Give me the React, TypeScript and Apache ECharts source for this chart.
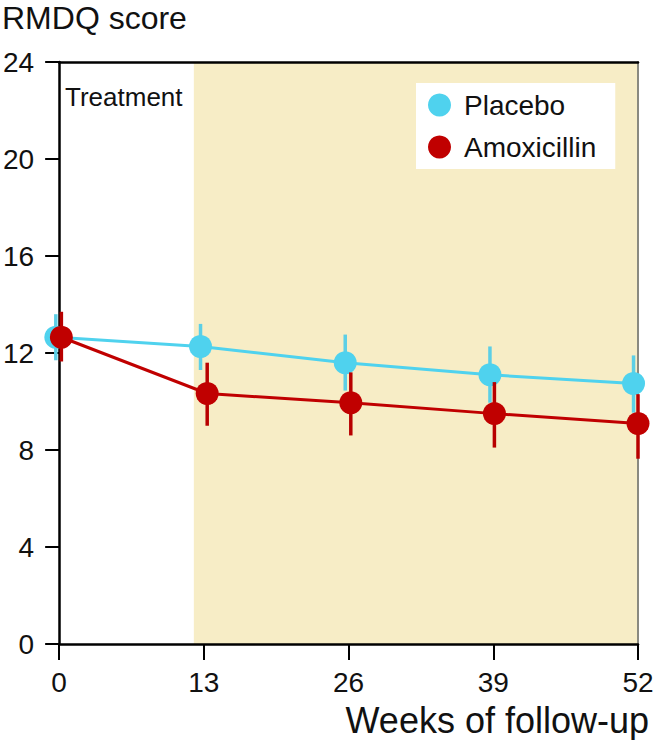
import React, { useEffect, useRef } from "react";
import * as echarts from "echarts";

const weekTicks = [0, 13, 26, 39, 52];
const placeboWeeks = [-0.3, 12.7, 25.7, 38.7, 51.6];
const placeboMean = [12.65, 12.27, 11.6, 11.1, 10.74];
const placeboLow = [11.7, 11.3, 10.45, 9.95, 9.54];
const placeboHigh = [13.6, 13.2, 12.76, 12.27, 11.9];

const amoxWeeks = [0.2, 13.3, 26.2, 39.1, 52];
const amoxMean = [12.65, 10.33, 9.95, 9.5, 9.09];
const amoxLow = [11.65, 9.0, 8.6, 8.1, 7.64];
const amoxHigh = [13.7, 11.6, 11.2, 10.8, 10.3];

const treatmentEnd = 12.1;
const yTicks = [0, 4, 8, 12, 16, 20, 24];

const FONT = "'Liberation Sans', Arial, Helvetica, sans-serif";
const CYAN = "#4fd2ee";
const RED = "#c00000";

function errorSeries(name: string, xs: number[], lo: number[], hi: number[], color: string, z: number) {
  return {
    type: "custom",
    name,
    z,
    clip: false,
    silent: true,
    data: xs.map((x, i) => [x, lo[i], hi[i]]),
    renderItem: (params: any, api: any) => {
      const p1 = api.coord([api.value(0), api.value(1)]);
      const p2 = api.coord([api.value(0), api.value(2)]);
      return {
        type: "line",
        shape: { x1: p1[0], y1: p1[1], x2: p2[0], y2: p2[1] },
        style: { stroke: color, lineWidth: 3.5 },
      };
    },
  };
}

export default function App() {
  const ref = useRef<HTMLDivElement>(null);
  useEffect(() => {
    if (!ref.current) return;
    const chart = echarts.init(ref.current, null, { renderer: "svg" });
    chart.setOption({
      animation: false,
      backgroundColor: "#ffffff",
      textStyle: { fontFamily: FONT },
      grid: { left: 58, right: 19, top: 62, bottom: 96, containLabel: false },
      legend: {
        data: ["Placebo", "Amoxicillin"],
        selectedMode: false,
        left: 416,
        top: 83,
        orient: "vertical",
        backgroundColor: "#ffffff",
        padding: [8, 19, 8, 12],
        itemWidth: 23,
        itemHeight: 23,
        itemGap: 14,
        icon: "circle",
        z: 20,
        textStyle: { fontSize: 28, color: "#111", fontFamily: FONT, lineHeight: 23, padding: [0, 0, 0, 8] },
      },
      graphic: [
        {
          type: "text",
          left: 2,
          top: 2,
          style: { text: "RMDQ score", fontSize: 32, fill: "#111", fontFamily: FONT },
        },
        {
          type: "text",
          right: 8,
          top: 702,
          style: { text: "Weeks of follow-up", fontSize: 36, fill: "#111", fontFamily: FONT },
        },
        {
          type: "text",
          left: 65,
          top: 84,
          style: { text: "Treatment", fontSize: 26, fill: "#111", fontFamily: FONT },
          z: 10,
        },
      ],
      xAxis: [
        {
          type: "value",
          position: "bottom",
          min: 0,
          max: 52,
          interval: 13,
          axisLine: { show: true, onZero: false, lineStyle: { color: "#000000", width: 2.5 } },
          axisTick: { show: true, length: 16, lineStyle: { color: "#000000", width: 2 } },
          axisLabel: {
            margin: 24,
            fontSize: 28,
            color: "#111",
            fontFamily: FONT,
            formatter: (v: number) => (weekTicks.includes(v) ? String(v) : ""),
          },
          splitLine: { show: false },
        },
        {
          type: "value",
          position: "top",
          min: 0,
          max: 52,
          interval: 13,
          axisLine: { show: true, onZero: false, lineStyle: { color: "#000000", width: 2.5 } },
          axisTick: { show: false },
          axisLabel: { show: false },
          splitLine: { show: false },
        },
      ],
      yAxis: [
        {
          type: "value",
          position: "left",
          min: 0,
          max: 24,
          interval: 4,
          axisLine: { show: true, onZero: false, lineStyle: { color: "#000000", width: 2.5 } },
          axisTick: { show: true, length: 14, lineStyle: { color: "#000000", width: 2 } },
          axisLabel: {
            margin: 25,
            fontSize: 28,
            color: "#111",
            fontFamily: FONT,
            formatter: (v: number) => (yTicks.includes(v) ? String(v) : ""),
          },
          splitLine: { show: false },
        },
        {
          type: "value",
          position: "right",
          min: 0,
          max: 24,
          interval: 4,
          axisLine: { show: true, onZero: false, lineStyle: { color: "#8a8a80", width: 2 } },
          axisTick: { show: false },
          axisLabel: { show: false },
          splitLine: { show: false },
        },
      ],
      series: [
        {
          type: "custom",
          name: "_shade",
          z: 0,
          silent: true,
          data: [[treatmentEnd, 0, 52, 24]],
          renderItem: (params: any, api: any) => {
            const a = api.coord([api.value(0), api.value(3)]);
            const b = api.coord([api.value(2), api.value(1)]);
            return {
              type: "rect",
              z2: -10,
              shape: { x: a[0], y: a[1], width: b[0] - a[0], height: b[1] - a[1] },
              style: { fill: "#f7edc6" },
            };
          },
        },
        errorSeries("Placebo SE", placeboWeeks, placeboLow, placeboHigh, "#5ccfe6", 6),
        {
          type: "line",
          name: "Placebo",
          clip: false,
          z: 7,
          data: placeboWeeks.map((x, i) => [x, placeboMean[i]]),
          symbol: "circle",
          symbolSize: 23,
          itemStyle: { color: CYAN },
          lineStyle: { color: CYAN, width: 3 },
        },
        errorSeries("Amoxicillin SE", amoxWeeks, amoxLow, amoxHigh, "#b80000", 8),
        {
          type: "line",
          name: "Amoxicillin",
          clip: false,
          z: 9,
          data: amoxWeeks.map((x, i) => [x, amoxMean[i]]),
          symbol: "circle",
          symbolSize: 23,
          itemStyle: { color: RED },
          lineStyle: { color: RED, width: 3 },
        },
      ],
    });
    return () => chart.dispose();
  }, []);
  return <div ref={ref} style={{ width: 657, height: 740, position: "absolute", left: 0, top: 0 }} />;
}
